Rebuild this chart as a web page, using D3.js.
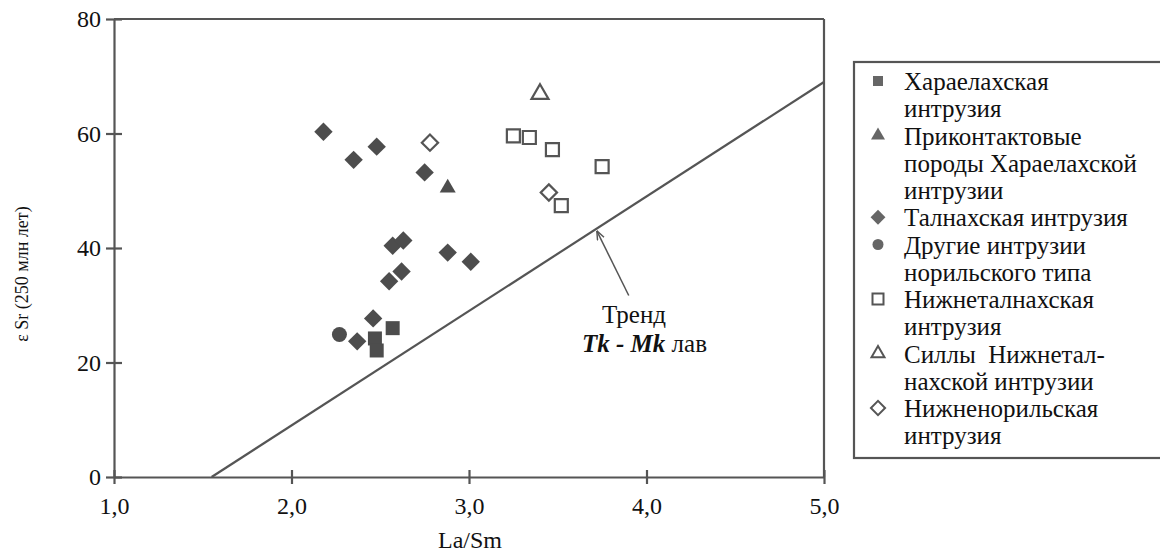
<!DOCTYPE html>
<html><head><meta charset="utf-8">
<script src="https://cdn.jsdelivr.net/npm/d3@7"></script>
<style>
html,body{margin:0;padding:0;background:#fff;}
svg{display:block;}
</style></head>
<body>
<svg id="chart" width="1160" height="552"></svg>
<script>
// ---- data ----
const xTicks = [1, 2, 3, 4, 5];
const xTickLabels = ["1,0", "2,0", "3,0", "4,0", "5,0"];
const yTicks = [0, 20, 40, 60, 80];
const yTickLabels = ["0", "20", "40", "60", "80"];

const kharaelakhX = [2.57, 2.47, 2.48];
const kharaelakhY = [26.0, 24.2, 22.1];
const contactX = [2.88];
const contactY = [50.5];
const talnakhX = [2.18, 2.35, 2.48, 2.75, 2.57, 2.63, 2.88, 3.01, 2.55, 2.62, 2.46, 2.37];
const talnakhY = [60.3, 55.4, 57.7, 53.2, 40.4, 41.3, 39.2, 37.6, 34.2, 35.9, 27.7, 23.7];
const otherX = [2.27];
const otherY = [24.9];
const lowerTalnakhX = [3.25, 3.34, 3.47, 3.75, 3.52];
const lowerTalnakhY = [59.6, 59.3, 57.2, 54.2, 47.4];
const sillsX = [3.40];
const sillsY = [66.9];
const lowerNorilskX = [2.78, 3.45];
const lowerNorilskY = [58.4, 49.7];

const trendX = [1.55, 5.0];
const trendY = [0, 69];
const arrowX = [3.90, 3.72];
const arrowY = [31.7, 43.0];

const legendLabels = [
  ["Хараелахская", "интрузия"],
  ["Приконтактовые", "породы Хараелахской", "интрузии"],
  ["Талнахская интрузия"],
  ["Другие интрузии", "норильского типа"],
  ["Нижнеталнахская", "интрузия"],
  ["Силлы  Нижнетал-", "нахской интрузии"],
  ["Нижненорильская", "интрузия"]
];

// ---- drawing ----
const SERIF = "Liberation Serif";
const svg = d3.select("#chart").style("font-family", SERIF);
const ink = "#555";
const x = d3.scaleLinear().domain([1, 5]).range([114, 824]);
const y = d3.scaleLinear().domain([0, 80]).range([477, 19]);

// frame (top and right)
svg.append("line").attr("x1", x(1)).attr("x2", x(5)).attr("y1", y(80)).attr("y2", y(80))
  .attr("stroke", ink).attr("stroke-width", 2.2);
svg.append("line").attr("x1", x(5)).attr("x2", x(5)).attr("y1", y(80)).attr("y2", y(0))
  .attr("stroke", ink).attr("stroke-width", 2.2);

// x axis
const xAxis = svg.append("g").attr("transform", `translate(0,${y(0)})`)
  .call(d3.axisBottom(x).tickValues(xTicks).tickSize(0).tickFormat((d, i) => xTickLabels[i]));
xAxis.attr("font-family", null).style("font-family", SERIF);
xAxis.select(".domain").attr("stroke", ink).attr("stroke-width", 2.2);
xAxis.selectAll(".tick line").attr("stroke", ink).attr("stroke-width", 2.2).attr("y1", -7).attr("y2", 7);
xAxis.selectAll(".tick text").style("font-family", SERIF).style("font-size", "24px")
  .attr("fill", "#111").attr("y", 37).attr("dy", 0);

// y axis
const yAxis = svg.append("g").attr("transform", `translate(${x(1)},0)`)
  .call(d3.axisLeft(y).tickValues(yTicks).tickSize(0).tickFormat((d, i) => yTickLabels[i]));
yAxis.attr("font-family", null).style("font-family", SERIF);
yAxis.select(".domain").attr("stroke", ink).attr("stroke-width", 2.2);
yAxis.selectAll(".tick line").attr("stroke", ink).attr("stroke-width", 2.2).attr("x1", -8).attr("x2", 8);
yAxis.selectAll(".tick text").style("font-family", SERIF).style("font-size", "24px")
  .attr("fill", "#111").attr("x", -13).attr("dy", "0.33em");

// axis titles
svg.append("text").attr("x", 470).attr("y", 548).attr("text-anchor", "middle")
  .style("font-family", SERIF).style("font-size", "24px").attr("fill", "#111").text("La/Sm");
svg.append("text").attr("transform", "translate(28,274) rotate(-90)").attr("text-anchor", "middle")
  .style("font-family", SERIF).style("font-size", "18px").attr("fill", "#111").text("ε Sr (250 млн лет)");

// trend line
svg.append("line").attr("x1", x(trendX[0])).attr("y1", y(trendY[0]))
  .attr("x2", x(trendX[1])).attr("y2", y(trendY[1]))
  .attr("stroke", ink).attr("stroke-width", 2.2);

// arrow
svg.append("defs").append("marker").attr("id", "ah").attr("viewBox", "0 0 10 10")
  .attr("refX", 10).attr("refY", 5).attr("markerWidth", 9).attr("markerHeight", 9)
  .attr("markerUnits", "userSpaceOnUse").attr("orient", "auto")
  .append("path").attr("d", "M0,1 L10,5 L0,9").attr("fill", "none").attr("stroke", ink).attr("stroke-width", 1.6);
svg.append("line").attr("x1", x(arrowX[0])).attr("y1", y(arrowY[0]))
  .attr("x2", x(arrowX[1])).attr("y2", y(arrowY[1]))
  .attr("stroke", ink).attr("stroke-width", 1.5).attr("marker-end", "url(#ah)");

// annotation text
svg.append("text").attr("x", 602).attr("y", 323).style("font-family", SERIF).style("font-size", "25px")
  .attr("fill", "#111").text("Тренд");
const ann = svg.append("text").attr("x", 582).attr("y", 352).style("font-family", SERIF)
  .style("font-size", "25px").attr("fill", "#111");
ann.append("tspan").style("font-weight", "bold").style("font-style", "italic").text("Tk - Mk");
ann.append("tspan").text(" лав");

// marker helpers
const sq = d3.symbol().type(d3.symbolSquare);
const tri = d3.symbol().type(d3.symbolTriangle);
const circ = d3.symbol().type(d3.symbolCircle);
const fillC = "#4d4d4d";

function shapePath(kind, s) {
  if (kind === "square" || kind === "diamond") return sq.size(s * s)();
  if (kind === "triangle") return tri.size(Math.sqrt(3) / 4 * s * s)();
  return circ.size(Math.PI * s * s / 4)();
}

function drawSeries(xs, ys, kind, filled, s) {
  const g = svg.append("g");
  xs.forEach((xv, i) => {
    const cx = x(xv), cy = y(ys[i]);
    const rot = kind === "diamond" ? 45 : 0;
    g.append("path").attr("d", shapePath(kind, s))
      .attr("transform", `translate(${cx},${cy}) rotate(${rot})`)
      .attr("fill", filled ? fillC : "#fff")
      .attr("stroke", filled ? "none" : ink)
      .attr("stroke-width", filled ? 0 : 2.2);
  });
}

drawSeries(lowerTalnakhX, lowerTalnakhY, "square", false, 13);
drawSeries(sillsX, sillsY, "triangle", false, 17);
drawSeries(lowerNorilskX, lowerNorilskY, "diamond", false, 11.5);
drawSeries(talnakhX, talnakhY, "diamond", true, 13);
drawSeries(contactX, contactY, "triangle", true, 16);
drawSeries(otherX, otherY, "circle", true, 15);
drawSeries(kharaelakhX, kharaelakhY, "square", true, 14);

// legend
const lg = svg.append("g");
lg.append("rect").attr("x", 854).attr("y", 62).attr("width", 320).attr("height", 396)
  .attr("fill", "none").attr("stroke", ink).attr("stroke-width", 2.2);
const legendKinds = [["square", true, 10], ["triangle", true, 14], ["diamond", true, 10.5], ["circle", true, 11],
  ["square", false, 11], ["triangle", false, 13], ["diamond", false, 10]];
let line = 0;
legendLabels.forEach((lines, k) => {
  const base = 90 + 27.25 * line;
  const [kind, filled, s] = legendKinds[k];
  const rot = kind === "diamond" ? 45 : 0;
  lg.append("path").attr("d", shapePath(kind, s))
    .attr("transform", `translate(878,${base - 9}) rotate(${rot})`)
    .attr("fill", filled ? "#666" : "#fff")
    .attr("stroke", filled ? "none" : ink).attr("stroke-width", filled ? 0 : 2);
  lines.forEach((t, j) => {
    lg.append("text").attr("x", 904).attr("y", base + 27.25 * j)
      .style("font-family", SERIF).style("font-size", "25px").style("white-space", "pre")
      .attr("fill", "#111").text(t);
  });
  line += lines.length;
});
</script>
</body></html>
